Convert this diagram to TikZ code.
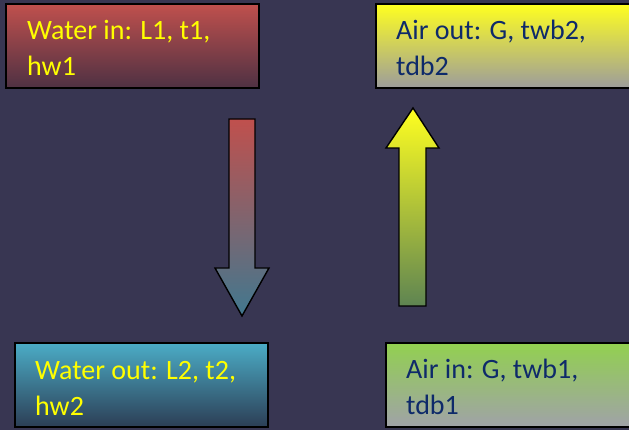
\documentclass[tikz,border=0pt]{standalone}
\usepackage{fontspec}
\setmainfont{Carlito}
\definecolor{bg}{HTML}{383652}
\definecolor{redtop}{HTML}{C0504D}
\definecolor{redbot}{HTML}{4E3143}
\definecolor{yeltop}{HTML}{FFFF20}
\definecolor{graybot}{HTML}{9C9C9C}
\definecolor{cyantop}{HTML}{4BACC6}
\definecolor{cyanbot}{HTML}{2C3E55}
\definecolor{greentop}{HTML}{92D050}
\definecolor{graybot2}{HTML}{A0A2A8}
\definecolor{txtyel}{HTML}{FFFF00}
\definecolor{txtblue}{HTML}{0E2A6A}
\definecolor{arrblue}{HTML}{41788F}
\definecolor{arrgreen}{HTML}{5E8452}
\tikzset{
  box/.style={draw=black, line width=1.5pt, rectangle, inner sep=0pt, minimum height=84pt},
  boxtext/.style={anchor=base west, inner sep=0pt, align=left, font=\fontsize{28}{36}\selectfont},
  blockarrow/.style={draw=black, line width=1.4pt},
}
\begin{document}
\begin{tikzpicture}[x=1pt,y=1pt]
\fill[bg] (0,0) rectangle (629,430);
\useasboundingbox (0,0) rectangle (629,430);
% boxes
\node[box, minimum width=253pt, top color=redtop, bottom color=redbot] (win) at (132.5,384) {};
\node[box, minimum width=256pt, top color=yeltop, bottom color=graybot] (aout) at (504,384) {};
\node[box, minimum width=253pt, top color=cyantop, bottom color=cyanbot] (wout) at (141.5,45) {};
\node[box, minimum width=254pt, top color=greentop, bottom color=graybot2] (ain) at (513,45) {};
% texts
\node[boxtext, text=txtyel] (twin) at (27,354) {Water in: L1, t1,\\hw1};
\node[boxtext, text=txtblue] (taout) at (396,354) {Air out: G, twb2,\\tdb2};
\node[boxtext, text=txtyel] (twout) at (35,14) {Water out: L2, t2,\\hw2};
\node[boxtext, text=txtblue] (tain) at (406,15) {Air in: G, twb1,\\tdb1};
% arrows
\path[blockarrow, top color=redtop, bottom color=arrblue]
  (229,311) -- (255,311) -- (255,162) -- (269,162) -- (242,114) -- (215,162) -- (229,162) -- cycle;
\path[blockarrow, top color=yeltop, bottom color=arrgreen]
  (399,124) -- (426,124) -- (426,282) -- (439,282) -- (413,322) -- (386,282) -- (399,282) -- cycle;
\end{tikzpicture}
\end{document}
